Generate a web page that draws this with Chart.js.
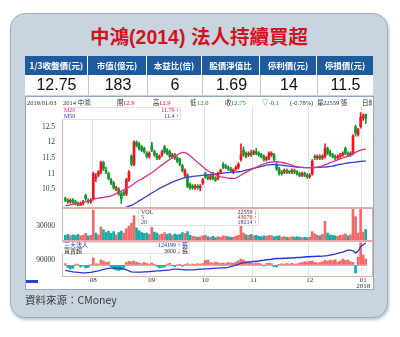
<!DOCTYPE html>
<html>
<head>
<meta charset="utf-8">
<title>中鴻(2014) 法人持續買超</title>
<script src="https://cdn.jsdelivr.net/npm/chart.js@4.4.1/dist/chart.umd.min.js"></script>
<style>
  html, body { margin: 0; padding: 0; background: #fff; }
  body { position: relative; width: 400px; height: 337px; overflow: hidden;
         font-family: "Liberation Sans", "Noto Sans CJK TC", sans-serif; }
  .abs { position: absolute; white-space: nowrap; }
  #panel { left: 10px; top: 13px; width: 376px; height: 303px; background: #c8d5e0;
           border: 1px solid #9cafc0; border-radius: 15px; box-shadow: 1px 2px 3px rgba(60,80,100,.35); }
  #title { left: 0; top: 25px; width: 398px; text-align: center; color: #d3121c;
           font: bold 19.5px/24px "Liberation Sans", "Noto Sans CJK TC", sans-serif; }
  #tblBack { left: 25px; top: 56px; width: 348px; height: 39px; background: #fff; }
  .th { top: 56px; height: 19px; background: #1d5a9e; color: #fff; text-align: center;
        font: bold 8.5px/19px "Noto Sans CJK TC", sans-serif; }
  .td { top: 75px; height: 20px; color: #111; text-align: center; box-sizing: border-box;
        font: 16px/20px "Liberation Sans", sans-serif; }
  #box { left: 25px; top: 96px; width: 347px; height: 192px; background: #fff; border: 1px solid #98a8b6; }
  canvas { position: absolute; }
  .frame { position: absolute; box-sizing: border-box; border: 1px solid #e7abab; }
  .legend { position: absolute; background: #fff; border: 1px solid #e2e2e2; box-sizing: border-box; }
  #clip { position: absolute; left: 0; top: 0; width: 372px; height: 337px; overflow: hidden; }
  #src { left: 25px; top: 293px; color: #3a3a3a; font: 10.5px/14px "Noto Sans CJK TC", sans-serif; }
  #scroll { left: 26px; top: 280px; width: 12px; height: 3px; background: #2a44c8; }
</style>
</head>
<body>
<div id="panel" class="abs"></div>
<div id="title" class="abs">中鴻(2014) 法人持續買超</div>
<div id="tblBack" class="abs"></div>
<div id="box" class="abs"></div>
<canvas id="priceChart" width="347" height="110" style="left:25px;top:98px"></canvas>
<canvas id="volChart" width="347" height="33" style="left:25px;top:208px"></canvas>
<canvas id="instChart" width="347" height="49" style="left:25px;top:241px"></canvas>
<div class="frame" style="left:62px;top:107px;width:311px;height:101px;border-top:none;border-right:none"></div>
<div class="frame" style="left:62px;top:208px;width:311px;height:33px"></div>
<div class="frame" style="left:62px;top:241px;width:311px;height:36px"></div>
<div class="legend" style="left:62px;top:107px;width:119px;height:13px;border-left:none"></div>
<div class="legend" style="left:138px;top:209px;width:121px;height:17px"></div>
<div class="legend" style="left:62px;top:242px;width:128px;height:12px;border-left:none"></div>
<div id="clip"></div>
<div id="scroll" class="abs"></div>
<div id="src" class="abs">資料來源：CMoney</div>
<script>
// ==========================================
// 資料
// ==========================================
const tableHeads = ["1/3收盤價(元)", "市值(億元)", "本益比(倍)", "股價淨值比", "停利價(元)", "停損價(元)"];
const tableVals = ["12.75", "183", "6", "1.69", "14", "11.5"];

// 月份與交易日數 (2017/07 ~ 2018/01)
const monthSpans = [["07", 11], ["08", 23], ["09", 21], ["10", 19], ["11", 22], ["12", 21], ["01", 2]];

const openP = [
  10.2, 10.15, 10.1, 10.15, 10.1, 10.05, 10.0, 10.05, 10.3, 10.15, 10.1,
  10.2, 10.85, 10.95, 11.05, 11.35, 11.1, 11.0, 10.8, 10.7, 10.5, 10.5, 10.35, 10.4, 10.35, 10.8, 11.55, 11.3, 12.0, 11.95, 11.85, 11.8, 11.65, 11.55,
  11.9, 11.7, 11.6, 11.5, 11.6, 11.85, 11.75, 11.7, 11.55, 11.6, 11.5, 11.45, 11.25, 10.95, 10.95, 10.65, 10.6, 10.55, 10.6, 10.55, 10.7,
  11.0, 10.9, 10.85, 11.0, 10.85, 10.85, 11.05, 11.3, 11.25, 11.2, 11.15, 11.05, 11.15, 11.2, 11.45, 11.75, 11.65, 11.6, 11.65,
  11.65, 11.7, 11.65, 11.6, 11.55, 11.45, 11.5, 11.6, 11.6, 11.3, 11.15, 11.05, 11.05, 11.1, 11.08, 11.05, 11.1, 11.05, 11.0, 10.95, 11.0, 10.95,
  10.9, 11.0, 11.55, 11.5, 11.55, 11.5, 11.55, 11.8, 11.7, 11.6, 11.55, 11.5, 11.55, 11.6, 11.8, 11.65, 11.6, 11.65, 12.5, 12.25, 12.5,
  12.8, 12.9
];
const highP = [
  10.25, 10.2, 10.2, 10.2, 10.15, 10.1, 10.1, 10.15, 10.35, 10.2, 10.2,
  11.05, 11.0, 11.1, 11.4, 11.4, 11.2, 11.05, 10.85, 10.75, 10.6, 10.55, 10.4, 10.45, 10.85, 11.1, 11.6, 12.05, 12.05, 12.0, 11.9, 11.85, 11.7, 11.7,
  12.0, 11.75, 11.65, 11.6, 11.75, 11.9, 11.8, 11.75, 11.65, 11.65, 11.55, 11.5, 11.3, 11.15, 11.0, 10.7, 10.65, 10.65, 10.65, 10.65, 10.85,
  11.05, 10.95, 10.95, 11.05, 10.9, 11.05, 11.15, 11.35, 11.3, 11.25, 11.2, 11.15, 11.25, 11.35, 11.95, 11.85, 11.7, 11.7, 11.75,
  11.75, 11.8, 11.7, 11.65, 11.6, 11.55, 11.7, 11.7, 11.65, 11.35, 11.2, 11.1, 11.15, 11.15, 11.1, 11.15, 11.15, 11.1, 11.05, 11.05, 11.05, 11.0,
  11.0, 11.45, 11.6, 11.6, 11.6, 11.6, 11.95, 11.85, 11.75, 11.65, 11.6, 11.6, 11.65, 11.7, 11.85, 11.7, 11.7, 12.25, 12.55, 12.45, 12.95,
  12.9, 12.9
];
const lowP = [
  10.1, 10.05, 10.05, 10.05, 10.0, 9.98, 9.98, 10.0, 10.15, 10.05, 10.05,
  10.15, 10.75, 10.9, 11.0, 11.1, 11.0, 10.8, 10.65, 10.5, 10.45, 10.3, 10.05, 10.3, 10.3, 10.75, 11.25, 11.25, 11.85, 11.75, 11.7, 11.65, 11.5, 11.5,
  11.7, 11.55, 11.45, 11.45, 11.55, 11.65, 11.6, 11.5, 11.5, 11.45, 11.35, 11.25, 11.05, 10.9, 10.55, 10.5, 10.5, 10.5, 10.5, 10.45, 10.65,
  10.85, 10.8, 10.8, 10.8, 10.75, 10.8, 11.0, 11.15, 11.15, 11.1, 11.05, 11.0, 11.1, 11.15, 11.4, 11.55, 11.5, 11.55, 11.55,
  11.6, 11.6, 11.55, 11.5, 11.4, 11.4, 11.45, 11.55, 11.4, 11.1, 10.95, 10.95, 11.0, 11.0, 11.0, 11.0, 11.0, 10.95, 10.9, 10.9, 10.9, 10.85,
  10.85, 10.95, 11.45, 11.45, 11.45, 11.45, 11.5, 11.6, 11.55, 11.5, 11.45, 11.45, 11.5, 11.55, 11.6, 11.55, 11.55, 11.6, 12.2, 12.2, 12.45,
  12.7, 12.6
];
const closeP = [
  10.15, 10.1, 10.15, 10.1, 10.05, 10.0, 10.05, 10.1, 10.2, 10.1, 10.15,
  11.0, 10.9, 11.05, 11.35, 11.15, 11.05, 10.85, 10.7, 10.55, 10.55, 10.35, 10.2, 10.35, 10.8, 11.05, 11.3, 12.0, 11.9, 11.8, 11.75, 11.7, 11.55, 11.65,
  11.75, 11.6, 11.5, 11.55, 11.7, 11.7, 11.65, 11.55, 11.6, 11.5, 11.4, 11.3, 11.1, 11.1, 10.6, 10.55, 10.55, 10.6, 10.55, 10.6, 10.8,
  10.9, 10.85, 10.9, 10.85, 10.8, 11.0, 11.1, 11.2, 11.2, 11.15, 11.1, 11.12, 11.2, 11.3, 11.6, 11.6, 11.55, 11.65, 11.6,
  11.7, 11.65, 11.6, 11.55, 11.45, 11.5, 11.65, 11.65, 11.45, 11.15, 11.0, 11.0, 11.1, 11.05, 11.05, 11.1, 11.05, 11.0, 10.95, 11.0, 10.95, 10.9,
  10.95, 11.4, 11.5, 11.55, 11.5, 11.55, 11.8, 11.65, 11.6, 11.55, 11.5, 11.55, 11.6, 11.65, 11.65, 11.6, 11.65, 12.2, 12.3, 12.4, 12.8,
  12.85, 12.75
];
const ma20 = [
  9.98, 9.99, 10.0, 10.02, 10.03, 10.05, 10.06, 10.08, 10.1, 10.12, 10.14,
  10.18, 10.2, 10.22, 10.23, 10.24, 10.26, 10.27, 10.29, 10.32, 10.36, 10.4, 10.44, 10.48, 10.52, 10.57, 10.62, 10.68, 10.74, 10.79, 10.83, 10.88, 10.93, 10.98,
  11.03, 11.09, 11.16, 11.22, 11.28, 11.34, 11.4, 11.45, 11.5, 11.55, 11.6, 11.65, 11.68, 11.67, 11.63, 11.57, 11.5, 11.43, 11.36, 11.29, 11.22,
  11.15, 11.09, 11.04, 11.0, 10.96, 10.93, 10.9, 10.89, 10.87, 10.86, 10.85, 10.85, 10.86, 10.9, 10.95, 11.0, 11.05, 11.09, 11.13,
  11.17, 11.2, 11.24, 11.28, 11.31, 11.34, 11.36, 11.37, 11.38, 11.38, 11.37, 11.36, 11.34, 11.32, 11.3, 11.27, 11.24, 11.22, 11.21, 11.2, 11.19, 11.19,
  11.19, 11.19, 11.2, 11.21, 11.22, 11.25, 11.28, 11.31, 11.35, 11.38, 11.41, 11.44, 11.47, 11.5, 11.53, 11.56, 11.59, 11.64, 11.68, 11.72, 11.75,
  11.77, 11.79
];
const ma50 = [
  9.0, 9.04, 9.08, 9.12, 9.16, 9.2, 9.24, 9.28, 9.32, 9.36, 9.4,
  9.48, 9.52, 9.56, 9.6, 9.64, 9.68, 9.72, 9.75, 9.78, 9.81, 9.84, 9.87, 9.9, 9.93, 9.96, 9.99, 10.03, 10.08, 10.13, 10.18, 10.23, 10.28, 10.33,
  10.38, 10.43, 10.48, 10.53, 10.57, 10.61, 10.65, 10.69, 10.73, 10.76, 10.79, 10.82, 10.85, 10.87, 10.89, 10.9, 10.91, 10.92, 10.93, 10.94, 10.95,
  10.95, 10.96, 10.97, 10.98, 10.99, 11.0, 11.01, 11.02, 11.03, 11.03, 11.04, 11.05, 11.05, 11.06, 11.07, 11.09, 11.11, 11.13, 11.15,
  11.17, 11.19, 11.21, 11.23, 11.25, 11.27, 11.28, 11.29, 11.29, 11.29, 11.28, 11.27, 11.26, 11.25, 11.24, 11.23, 11.22, 11.21, 11.2, 11.2, 11.19, 11.19,
  11.19, 11.19, 11.19, 11.2, 11.2, 11.21, 11.21, 11.22, 11.23, 11.24, 11.26, 11.28, 11.3, 11.31, 11.33, 11.34, 11.35, 11.36, 11.37, 11.38, 11.39,
  11.4, 11.4
];
// 成交量 (張)
const volume = [
  10000, 12000, 9500, 11000, 10000, 12000, 9000, 10000, 14000, 9000, 10000,
  64000, 15000, 11000, 28000, 22000, 16000, 19000, 14000, 18000, 11000, 16000, 19000, 15000, 24000, 30000, 36000, 52000, 26000, 20000, 16000, 14000, 15000, 12000,
  27000, 17000, 15000, 11000, 13000, 16000, 12000, 14000, 10000, 13000, 11000, 12000, 16000, 14000, 18000, 10000, 8000, 7000, 6000, 7000, 9000,
  10000, 7000, 6000, 8000, 5000, 7000, 6000, 9000, 8000, 7000, 6000, 6000, 8000, 10000, 36000, 15000, 11000, 10000, 12000,
  9000, 10000, 8000, 7000, 9000, 8000, 10000, 9000, 7000, 8000, 9000, 6000, 7000, 6000, 5000, 7000, 6000, 7000, 6000, 5000, 6000, 5000,
  6000, 18000, 13000, 10000, 9000, 12000, 40000, 15000, 11000, 10000, 9000, 8000, 10000, 11000, 13000, 9000, 11000, 66000, 50000, 15000, 66000,
  17000, 22559
];
// 三大法人買賣超 (張)
const instNet = [
  800, -1500, -2400, -2000, 600, 400, -1200, -600, -1800, -1500, 300,
  4200, 800, 600, 3000, 2400, 1500, 1800, -1200, -2500, -3000, -3300, -2800, -2000, 1500, 2200, 2000, 2400, 1600, 1200, 800, 1500, 900, 600,
  1200, 500, -800, -1800, -1500, -1200, 600, 1000, -400, -900, 300, 500, -700, 400, 800, 300, 600, 400, 800, 500, 900,
  2800, 3000, 1500, 1200, 1800, 1400, 1000, 1200, 900, 1500, 1300, 1000, 1800, 2500, 3600, 3000, 2000, 1500, 1200,
  800, 1200, 1000, 600, -500, 900, 1200, 800, -1000, -1200, 400, 700, 500, 900, 600, 1000, 500, 700, 1200, 1500, 2000, 1800,
  2200, 2400, 1600, 1200, 1500, 2000, 2800, 2200, 3000, 2600, 3200, 1800, 2400, 3500, 2800, 3000, 2000, 1500, -4800, 4800, 13200,
  6000, 3600
];
// 三大法人持股 (張)
const instCum = [
  69000, 68000, 67000, 66000, 65500, 65000, 64500, 64000, 64000, 64500, 65000,
  66000, 67000, 68000, 69500, 71000, 72000, 73000, 73500, 73500, 73500, 73500, 72500, 71500, 70000, 68000, 66000, 65500, 65500, 65500, 65800, 66000, 66000, 66500,
  67000, 67500, 68000, 68000, 68500, 69000, 69500, 70000, 71000, 71500, 71500, 71000, 70500, 70000, 70000, 70000, 70000, 70500, 71000, 71500, 71500,
  72000, 72000, 72500, 73000, 73500, 73500, 74000, 74000, 74000, 75000, 76500, 78000, 79500, 81000, 83000, 84000, 85000, 86000, 86500,
  87000, 87500, 88000, 89000, 89500, 90500, 91000, 91500, 92500, 93000, 93000, 93000, 93500, 93500, 94000, 94000, 94500, 95000, 95000, 95500, 96000, 96500,
  96500, 97000, 97000, 97500, 97500, 98000, 98500, 99000, 100000, 101000, 102000, 103500, 105000, 106000, 108000, 110000, 110000, 108500, 104000, 108000, 117000,
  120600, 124199
];
const priceTicks = [10.5, 11, 11.5, 12, 12.5];
const volTicks = [30000];
const cumTicks = [90000];

// ==========================================
// 表格 & 文字
// ==========================================
const colW = [63, 59, 55, 58, 57, 56];
let cx = 25;
tableHeads.forEach((h, k) => {
  const th = document.createElement("div");
  th.className = "abs th";
  th.style.left = cx + "px";
  th.style.width = (colW[k] - (k < colW.length - 1 ? 1 : 0)) + "px";
  th.textContent = h;
  document.body.appendChild(th);

  const td = document.createElement("div");
  td.className = "abs td";
  td.style.left = cx + "px";
  td.style.width = colW[k] + "px";
  if (k > 0) td.style.borderLeft = "1px solid #c9c9c9";
  td.textContent = tableVals[k];
  document.body.appendChild(td);
  cx += colW[k];
});

const clip = document.getElementById("clip");
function put(text, x, y, color, size, right) {
  const d = document.createElement("div");
  d.className = "abs";
  d.textContent = text;
  d.style.top = (y - size / 2) + "px";
  d.style.color = color;
  d.style.font = `${size}px/${size}px "Liberation Serif", "Noto Sans CJK TC", serif`;
  if (right) d.style.right = (372 - x) + "px";
  else d.style.left = x + "px";
  clip.appendChild(d);
}
const RED = "#e3131b", GRN = "#138a2a", BLU = "#2433c8", PNK = "#e0307f", DK = "#333";

// 資訊列
put("2018/01/03", 27, 103, DK, 6.5);
put("2014 中鴻", 63, 103, DK, 6.5);
put("開", 117, 103, DK, 6.5); put("12.9", 123, 103, RED, 6.5);
put("高", 153, 103, DK, 6.5); put("12.9", 159, 103, RED, 6.5);
put("低", 190, 103, DK, 6.5); put("12.6", 197, 103, GRN, 6.5);
put("收", 225, 103, DK, 6.5); put("12.75", 231, 103, GRN, 6.5);
put("▽-0.1", 262, 103, GRN, 6.5);
put("(-0.78%)", 290, 103, DK, 6.5);
put("量", 317, 103, DK, 6.5); put("22559 張", 323, 103, DK, 6.5);
put("日線", 362, 103, DK, 6.5);

// 均線圖例
put("M20", 64, 110, PNK, 6);
put("M50", 64, 115.5, BLU, 6);
put("11.79 ↑", 179, 110, RED, 6, true);
put("11.4 ↑", 179, 115.5, BLU, 6, true);

// 成交量圖例
put("VOL", 141, 212, DK, 6);
put("5", 141, 217, RED, 6);
put("20", 141, 222, BLU, 6);
put("22559 ↓", 257, 212, DK, 6, true);
put("43076 ↑", 257, 217, RED, 6, true);
put("18214 ↑", 257, 222, BLU, 6, true);

// 法人圖例
put("三大法人", 64, 245, BLU, 6);
put("買賣超", 64, 250.5, DK, 6);
put("124199 ↑ 張", 188, 245, BLU, 6, true);
put("3600 ↓ 張", 188, 250.5, DK, 6, true);

// ==========================================
// Chart.js
// ==========================================
const days = [];
monthSpans.forEach(([m, n]) => { for (let k = 0; k < n; k++) days.push(m); });
const isMonthStart = i => i > 0 && i < days.length && days[i] !== days[i - 1];
const monthLabel = i => !isMonthStart(i) ? "" : (days[i] === "01" ? ["01", "2018"] : days[i]);

const UP = "#ee1620", DOWN = "#13962f";
const VUP = "#f16a6a", VDN = "#16aca6";
const candleCol = closeP.map((c, i) => c >= openP[i] ? UP : DOWN);
const volCol = closeP.map((c, i) => (i === 0 ? c >= openP[0] : c >= closeP[i - 1]) ? VUP : VDN);
const netCol = instNet.map(v => v >= 0 ? VUP : VDN);

const axisFont = { family: "Liberation Serif", size: 7.5 };
const gridCol = c => isMonthStart(c.index) ? "#e4e4e4" : "rgba(0,0,0,0)";

// 軸的標籤不要撐開圖區 (只留 layout.padding)
function noPad(s) { s.paddingTop = 0; s.paddingBottom = 0; s.paddingLeft = 0; s.paddingRight = 0; }

function hiddenX() {
  return {
    grid: { color: gridCol, drawTicks: false },
    ticks: { display: false },
    border: { display: false },
    afterFit: s => { s.height = 0; noPad(s); }
  };
}

function leftAxis(min, max, ticks) {
  return {
    position: "left",
    min: min, max: max,
    afterFit: s => { s.width = 39; noPad(s); },
    afterBuildTicks: s => { s.ticks = ticks.map(v => ({ value: v })); },
    ticks: { font: axisFont, color: DK, padding: 9, callback: v => String(v) },
    grid: { display: false, drawTicks: false },
    border: { display: false }
  };
}

const common = {
  responsive: false,
  animation: false,
  events: [],
  plugins: { legend: { display: false }, tooltip: { enabled: false } }
};

// 價格 (K線 + 均線)
new Chart(document.getElementById("priceChart"), {
  type: "bar",
  data: {
    labels: days,
    datasets: [
      { type: "line", data: ma20, borderColor: PNK, borderWidth: 1.3, pointRadius: 0, order: 1, clip: 0 },
      { type: "line", data: ma50, borderColor: "#3440d6", borderWidth: 1.3, pointRadius: 0, order: 1, clip: 0 },
      { data: openP.map((o, i) => [o, closeP[i]]), backgroundColor: candleCol, barThickness: 2,
        minBarLength: 1, grouped: false, order: 2 },
      { data: lowP.map((l, i) => [l, highP[i]]), backgroundColor: candleCol, barThickness: 1,
        grouped: false, order: 3 }
    ]
  },
  options: Object.assign({}, common, {
    layout: { padding: { left: 0, right: 5, top: 8, bottom: 1 } },
    scales: { x: hiddenX(), y: leftAxis(9.935, 13.16, priceTicks) }
  })
});

// 成交量
new Chart(document.getElementById("volChart"), {
  type: "bar",
  data: {
    labels: days,
    datasets: [{ data: volume, backgroundColor: volCol, barThickness: 2 }]
  },
  options: Object.assign({}, common, {
    layout: { padding: { left: 0, right: 5, top: 1, bottom: 1 } },
    scales: { x: hiddenX(), y: leftAxis(0, 66430, volTicks) }
  })
});

// 三大法人
new Chart(document.getElementById("instChart"), {
  type: "bar",
  data: {
    labels: days,
    datasets: [
      { type: "line", data: instCum, yAxisID: "yCum", borderColor: "#2a35d0", borderWidth: 1.3,
        pointRadius: 0, order: 1, clip: 0 },
      { data: instNet, yAxisID: "yNet", backgroundColor: netCol, barThickness: 2, order: 2 }
    ]
  },
  options: Object.assign({}, common, {
    layout: { padding: { left: 0, right: 5, top: 1, bottom: 0 } },
    scales: {
      x: {
        grid: { color: gridCol, drawTicks: false },
        border: { display: false },
        ticks: { autoSkip: false, maxRotation: 0, padding: 1, color: DK,
                 font: { family: "Liberation Serif", size: 7, lineHeight: 0.9 },
                 callback: (v, i) => monthLabel(i) },
        afterFit: s => { s.height = 14; noPad(s); }
      },
      yCum: leftAxis(57808, 126216, cumTicks),
      yNet: {
        position: "right",
        min: -6600, max: 13800,
        afterFit: s => { s.width = 0; noPad(s); },
        afterBuildTicks: s => { s.ticks = [{ value: 0 }]; },
        ticks: { display: false },
        grid: { color: "#b8b8b8", drawTicks: false },
        border: { display: false }
      }
    }
  })
});
</script>
</body>
</html>
